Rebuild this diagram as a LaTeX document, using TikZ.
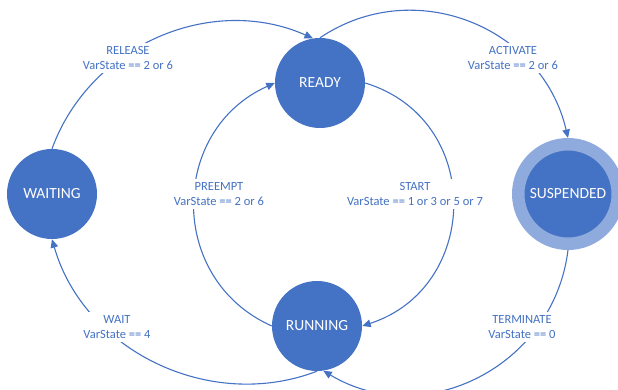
\documentclass[tikz,border=0pt]{standalone}
\usepackage{fontspec}
\setmainfont{Carlito}
\usetikzlibrary{arrows.meta}
\definecolor{stateblue}{HTML}{4472C4}
\definecolor{ringblue}{HTML}{8FAADC}

\begin{document}
\begin{tikzpicture}[x=1pt, y=1pt,
	state/.style={circle, fill=stateblue, text=white, minimum size=90pt, inner sep=0pt, font=\fontsize{15.5}{18}\selectfont},
	cond/.style={fill=white, text=stateblue, align=center, inner sep=3pt, font=\fontsize{12.5}{15}\selectfont},
	trans/.style={color=stateblue, line width=1.1pt, -{Triangle[length=8.5pt,width=7.5pt]}}]
	\useasboundingbox (0,0) rectangle (618,390);
	\node[state] (WAITING) at (52,196) {WAITING};
	\node[state] (READY) at (320,307) {READY};
	\node[state] (RUNNING) at (317,64) {RUNNING};
	\node[state, minimum size=99.5pt, draw=ringblue, line width=12.5pt] (SUSPENDED) at (568,196) {SUSPENDED};
	\path[trans]
		(WAITING.north) edge[out=70, in=156] (READY.99)
		(READY.north) edge[out=34, in=103, looseness=1.09] (SUSPENDED.north)
		(SUSPENDED.south) edge[out=-97, in=-31, looseness=1.1] (RUNNING.-82)
		(RUNNING.south) edge[out=-159, in=-74] (WAITING.south)
		(RUNNING.west) edge[out=156, in=-156, looseness=1.21] (READY.west)
		(READY.east) edge[out=-17, in=18, looseness=1.31] (RUNNING.east);
	\node[cond] (release) at (128,332) {RELEASE\\VarState == 2 or 6};
	\node[cond] (activate) at (513,332) {ACTIVATE\\VarState == 2 or 6};
	\node[cond] (preempt) at (219,196) {PREEMPT\\VarState == 2 or 6};
	\node[cond] (start) at (415,196) {START\\VarState == 1 or 3 or 5 or 7};
	\node[cond] (wait) at (117,63) {WAIT\\VarState == 4};
	\node[cond] (terminate) at (522,63) {TERMINATE\\VarState == 0};
\end{tikzpicture}
\end{document}
